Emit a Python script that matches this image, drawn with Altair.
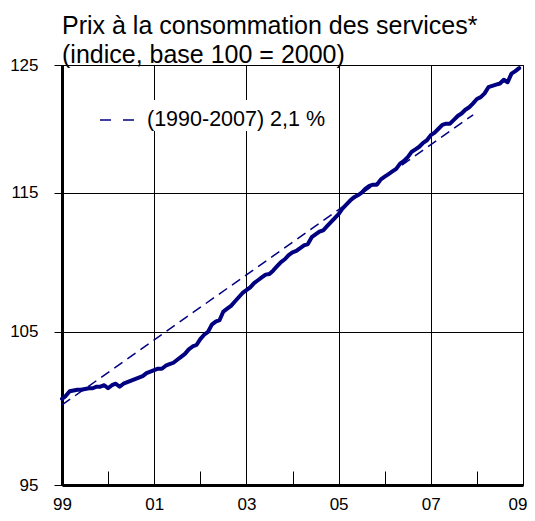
import altair as alt
import numpy as np
import pandas as pd

# Monthly index (base 100 = 2000), January 1999 .. December 2008
values = [100.5, 100.7, 101.0, 101.05, 101.1, 101.1, 101.15, 101.2, 101.2, 101.3, 101.3, 101.4,
          101.2, 101.4, 101.5, 101.3, 101.5, 101.6, 101.7, 101.8, 101.9, 102.0, 102.2, 102.3,
          102.4, 102.5, 102.5, 102.7, 102.8, 102.9, 103.1, 103.3, 103.5, 103.8, 104.0, 104.1,
          104.5, 104.8, 105.0, 105.5, 105.7, 105.8, 106.4, 106.6, 106.8, 107.1, 107.4, 107.7,
          107.9, 108.1, 108.4, 108.6, 108.8, 109.0, 109.05, 109.3, 109.6, 109.9, 110.1, 110.4,
          110.6, 110.7, 110.9, 111.1, 111.2, 111.7, 111.9, 112.1, 112.2, 112.5, 112.8, 113.1,
          113.4, 113.8, 114.1, 114.4, 114.65, 114.8, 115.0, 115.3, 115.5, 115.6, 115.6, 116.0,
          116.2, 116.4, 116.6, 116.8, 117.2, 117.4, 117.7, 118.1, 118.3, 118.5, 118.8, 119.0,
          119.4, 119.6, 119.9, 120.2, 120.3, 120.3, 120.6, 120.9, 121.1, 121.4, 121.6, 121.9,
          122.25, 122.4, 122.7, 123.2, 123.3, 123.4, 123.5, 123.8, 123.6, 124.3, 124.5, 124.75]

# Trend line (1990-2007 average growth), endpoints
trend_years = [1999.0, 2007.92]
trend_values = [100.1, 121.0]
legend_label = "(1990-2007) 2,1 %"

y_ticks = [95, 105, 115, 125]
x_ticks = list(range(1999, 2010))
title_lines = ["Prix à la consommation des services*", "(indice, base 100 = 2000)"]

years = 1999 + np.arange(len(values)) / 12
df = pd.DataFrame({"year": years, "value": values})
tdf = pd.DataFrame({"year": trend_years, "value": trend_values, "serie": [legend_label] * 2})

NAVY = "#000080"
FONT = "Liberation Sans"

x_scale = alt.Scale(domain=[1999, 2009], nice=False, zero=False)
y_scale = alt.Scale(type="log", domain=[95, 125], nice=False, zero=False)

x_axis = alt.Axis(
    values=x_ticks, format="d",
    labelExpr="datum.value % 2 == 1 ? substring(datum.label, 2) : ''",
    labelAlign={"condition": {"test": "datum.value == 2009", "value": "right"}, "value": "center"},
    labelOffset={"condition": {"test": "datum.value == 2009", "value": 4}, "value": 0},
    grid=True, gridColor="black", gridWidth=1,
    gridDash={"condition": {"test": "datum.value % 2 == 0", "value": [14, 406]}, "value": []},
    gridDashOffset=14,
    ticks=False, tickSize=0,
    domainColor="black", domainWidth=3,
    labelFontSize=17, labelPadding=11, labelColor="black", labelFont=FONT,
    labelFlush=False, title=None,
)
y_axis = alt.Axis(
    values=y_ticks, format="d",
    grid=True, gridColor="black", gridWidth=1,
    tickColor="black", tickSize=8, tickWidth=1,
    domainColor="black", domainWidth=3,
    labelFontSize=17, labelPadding=16, labelColor="black", labelFont=FONT,
    title=None,
)

legend = alt.Legend(
    title=None, orient="none", legendX=37, legendY=35,
    symbolType="stroke", symbolSize=1444, symbolStrokeWidth=1.5, symbolDash=[11, 12],
    labelFontSize=21.5, labelFont=FONT, labelColor="black", labelOffset=8, labelLimit=400,
    fillColor="white", padding=0,
)

trend = alt.Chart(tdf).mark_line(strokeWidth=1.5, strokeDash=[10, 6]).encode(
    x=alt.X("year:Q", scale=x_scale, axis=x_axis),
    y=alt.Y("value:Q", scale=y_scale, axis=y_axis),
    color=alt.Color("serie:N", scale=alt.Scale(domain=[legend_label], range=[NAVY]), legend=legend),
)

main = alt.Chart(df).mark_line(color=NAVY, strokeWidth=4, strokeJoin="round", strokeCap="round").encode(
    x=alt.X("year:Q", scale=x_scale, axis=x_axis),
    y=alt.Y("value:Q", scale=y_scale, axis=y_axis),
)

chart = alt.layer(trend, main).properties(
    width=461, height=420,
    padding={"left": 54, "top": 57, "right": 4, "bottom": 27},
    autosize=alt.AutoSizeParams(type="none"),
    title=alt.Title(text=title_lines, anchor="start", frame="group", fontSize=25,
                    fontWeight="normal", font=FONT, color="black", lineHeight=29, offset=-12),
).configure(background="white", font=FONT).configure_view(stroke="black", strokeWidth=1)

chart.save("out.html", embed_options={"renderer": "svg", "actions": False})
